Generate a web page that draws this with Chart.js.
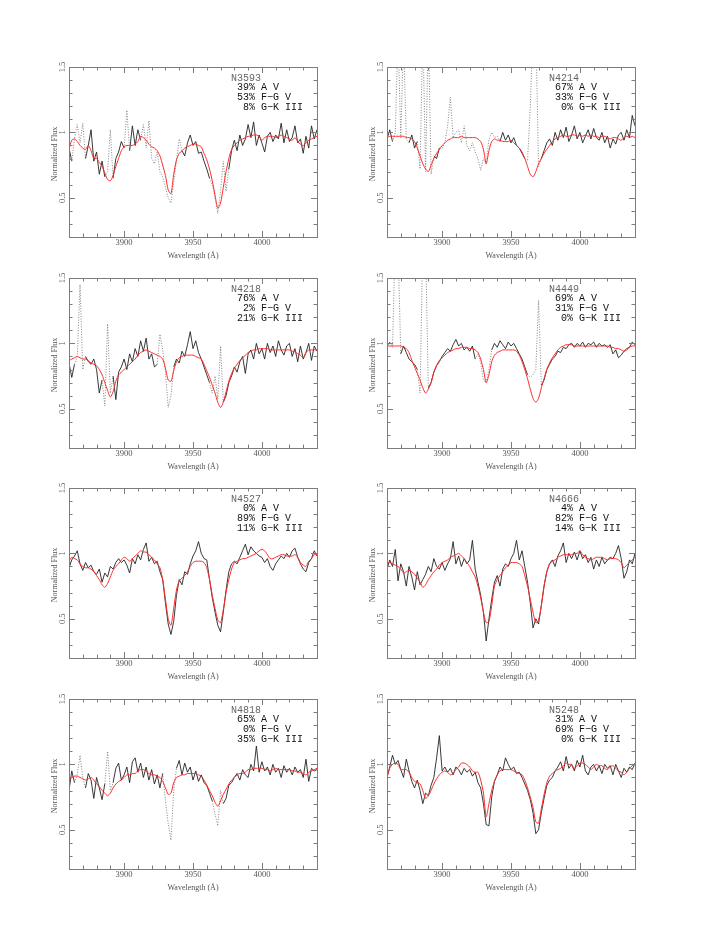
<!DOCTYPE html>
<html>
<head>
<meta charset="utf-8">
<script src="https://cdn.jsdelivr.net/npm/chart.js@4.4.1/dist/chart.umd.min.js"></script>
<style>
    html, body { margin: 0; background: #fff; }
    #page { position: relative; width: 720px; height: 931px; }
    .panel { position: absolute; width: 320px; height: 230px; }
</style>
</head>
<body>
<div id="page"></div>
<script>
// ─── Data ─────────────────────────────────────────────────────────────────────
// wavelength grid (Å), 3860..4040 every 2 Å
const WAVE = Array.from({ length: 91 }, (_, i) => 3860 + 2 * i);

const X_TICKS = [3900, 3950, 4000];
const Y_TICKS = [0.5, 1, 1.5];

const GALAXIES = ['N3593', 'N4214', 'N4218', 'N4449', 'N4527', 'N4666', 'N4818', 'N5248'];
const PCT_AV   = [39, 67, 76, 69, 0, 4, 65, 31];
const PCT_FGV  = [53, 33, 2, 31, 89, 82, 0, 69];
const PCT_GKIII = [8, 0, 21, 0, 11, 14, 35, 0];

const OBS_N3593 = [
    0.88,0.78,0.95,1.06,0.92,1.07,0.80,0.90,1.02,0.78,
    0.85,0.68,0.78,0.66,0.70,1.02,0.65,0.80,0.85,0.93,
    0.88,1.17,0.86,1.05,0.90,1.02,0.94,1.06,0.88,1.09,
    0.80,0.76,0.85,0.70,0.66,0.58,0.50,0.46,0.62,0.78,
    0.95,0.86,0.82,0.92,0.98,0.90,0.93,0.84,0.85,0.78,
    0.72,0.65,0.60,0.50,0.38,0.55,0.78,0.55,0.72,0.86,
    0.94,0.86,0.98,0.90,0.95,1.06,0.96,1.08,0.90,0.98,
    0.92,0.85,0.97,1.00,0.93,0.98,0.95,1.07,0.92,1.02,
    0.93,0.96,1.05,0.92,0.95,0.84,0.97,0.88,1.05,0.95,
    1.02];
const FIT_N3593 = [
    0.87,0.94,0.95,0.93,0.90,0.88,0.87,0.90,0.86,0.80,
    0.80,0.77,0.74,0.69,0.64,0.63,0.67,0.74,0.80,0.86,
    0.89,0.90,0.90,0.90,0.91,0.93,0.97,0.96,0.94,0.91,
    0.89,0.88,0.86,0.82,0.75,0.67,0.56,0.53,0.68,0.79,
    0.84,0.86,0.88,0.89,0.90,0.91,0.91,0.90,0.89,0.84,
    0.79,0.72,0.63,0.52,0.42,0.46,0.58,0.70,0.80,0.87,
    0.90,0.92,0.94,0.95,0.96,0.97,0.97,0.98,0.98,0.97,
    0.94,0.96,0.97,0.97,0.97,0.96,0.97,0.98,0.97,0.96,
    0.95,0.94,0.96,0.93,0.91,0.90,0.92,0.94,0.95,0.96,
    0.97];
const MASK_N3593 = [[3863, 3871], [3887, 3891], [3901, 3903], [3913, 3941], [3963, 3975]];

const OBS_N4214 = [
    0.95,1.02,0.93,1.00,1.75,0.96,1.72,0.95,0.92,0.98,
    0.88,0.93,0.72,1.80,0.70,1.80,0.68,0.82,0.80,0.88,
    0.88,0.92,1.05,1.27,0.96,1.00,1.02,0.92,1.05,0.90,
    0.86,0.92,0.85,0.80,0.71,0.80,0.76,0.95,1.00,0.96,
    0.97,0.93,1.00,0.94,0.98,0.92,0.96,0.90,0.88,0.84,
    0.80,0.78,1.20,1.80,1.80,0.74,0.80,0.86,0.92,0.95,
    0.90,1.00,0.94,1.02,0.96,1.04,0.93,0.98,1.05,0.95,
    1.00,0.92,0.97,1.02,0.95,1.03,0.96,0.94,1.00,0.92,
    0.97,0.88,0.95,0.91,0.98,1.00,0.94,1.02,0.96,1.13,
    1.05];
const FIT_N4214 = [
    0.96,0.97,0.97,0.97,0.97,0.97,0.97,0.96,0.96,0.95,
    0.93,0.88,0.82,0.76,0.72,0.70,0.75,0.80,0.84,0.87,
    0.90,0.92,0.94,0.95,0.96,0.96,0.96,0.97,0.96,0.96,
    0.96,0.96,0.96,0.95,0.93,0.87,0.76,0.86,0.93,0.95,
    0.94,0.94,0.93,0.93,0.93,0.94,0.92,0.90,0.88,0.85,
    0.80,0.74,0.68,0.66,0.70,0.76,0.80,0.84,0.87,0.90,
    0.93,0.95,0.96,0.97,0.98,0.97,0.97,0.98,0.98,0.97,
    0.98,0.97,0.98,0.97,0.98,0.97,0.97,0.96,0.97,0.97,
    0.96,0.95,0.96,0.96,0.95,0.94,0.96,0.97,0.96,0.97,
    0.96];
const MASK_N4214 = [[3865, 3875], [3883, 3893], [3899, 3941], [3961, 3971]];

const OBS_N4218 = [
    0.85,0.74,0.84,0.89,1.45,0.80,0.90,0.86,0.84,0.88,
    0.80,0.62,0.72,0.52,1.15,0.62,0.75,0.57,0.78,0.82,
    0.88,0.80,0.92,0.86,0.96,0.90,1.02,0.94,1.04,0.88,
    0.92,0.82,0.84,1.07,0.95,0.78,0.51,0.60,0.82,0.88,
    0.85,0.94,0.90,0.99,1.09,0.96,1.02,0.93,0.88,0.82,
    0.76,0.70,0.62,0.75,0.57,0.98,0.55,0.60,0.70,0.75,
    0.82,0.78,0.86,0.90,0.77,0.92,0.95,0.88,1.00,0.92,
    0.96,0.88,1.00,0.93,0.98,0.90,1.02,0.95,0.91,0.98,
    1.00,0.90,0.96,0.86,0.98,0.88,0.93,1.00,0.87,0.98,
    0.94];
const FIT_N4218 = [
    0.87,0.88,0.89,0.90,0.89,0.88,0.88,0.87,0.85,0.84,
    0.83,0.80,0.76,0.70,0.64,0.59,0.63,0.71,0.76,0.78,
    0.80,0.82,0.84,0.86,0.88,0.91,0.93,0.94,0.95,0.94,
    0.93,0.92,0.91,0.90,0.88,0.81,0.72,0.71,0.79,0.86,
    0.89,0.90,0.91,0.91,0.91,0.91,0.90,0.89,0.88,0.84,
    0.79,0.74,0.68,0.62,0.55,0.51,0.55,0.63,0.71,0.77,
    0.81,0.84,0.87,0.89,0.91,0.93,0.94,0.95,0.95,0.96,
    0.96,0.96,0.96,0.95,0.95,0.95,0.95,0.95,0.95,0.95,
    0.95,0.94,0.94,0.92,0.91,0.89,0.93,0.95,0.95,0.95,
    0.95];
const MASK_N4218 = [[3865, 3871], [3885, 3891], [3924, 3935], [3963, 3971]];

const OBS_N4449 = [
    0.98,1.01,0.97,1.80,1.75,0.92,0.98,0.93,0.88,0.86,
    0.84,0.80,0.62,1.80,1.75,0.66,0.70,0.78,0.83,0.86,
    0.90,0.93,0.96,0.94,0.99,1.03,0.98,1.00,0.95,0.97,
    0.94,0.98,0.88,0.92,0.85,0.72,0.70,0.80,0.95,1.00,
    0.97,1.02,0.99,0.96,1.01,0.98,1.00,0.96,0.92,0.88,
    0.82,0.76,0.74,0.76,0.80,1.33,0.68,0.72,0.80,0.84,
    0.88,0.90,0.94,0.93,0.97,0.96,0.99,1.00,0.97,1.00,
    0.98,1.01,0.97,1.00,0.99,1.01,0.97,1.00,0.98,0.99,
    0.97,0.99,0.92,0.95,0.89,0.91,0.94,0.96,0.97,1.01,
    0.99];
const FIT_N4449 = [
    0.98,0.98,0.98,0.98,0.98,0.98,0.97,0.96,0.93,0.87,
    0.82,0.77,0.72,0.66,0.62,0.65,0.70,0.78,0.83,0.87,
    0.89,0.91,0.93,0.94,0.95,0.96,0.96,0.97,0.97,0.97,
    0.96,0.96,0.95,0.93,0.88,0.80,0.70,0.76,0.86,0.91,
    0.93,0.94,0.95,0.95,0.95,0.95,0.95,0.94,0.91,0.86,
    0.80,0.73,0.65,0.58,0.55,0.58,0.66,0.73,0.80,0.85,
    0.89,0.92,0.95,0.97,0.98,0.99,0.99,0.99,0.98,0.98,
    0.98,0.98,0.98,0.98,0.98,0.98,0.98,0.98,0.98,0.98,
    0.98,0.97,0.97,0.96,0.96,0.95,0.94,0.95,0.97,0.98,
    0.98];
const MASK_N4449 = [[3863, 3870], [3883, 3889], [3925, 3936], [3963, 3972]];

const OBS_N4527 = [
    0.89,0.95,0.98,1.02,0.92,0.87,0.93,0.89,0.91,0.86,
    0.84,0.88,0.78,0.85,0.82,0.90,0.88,0.93,0.96,0.93,
    0.95,0.91,0.85,0.96,0.92,0.99,0.95,1.03,1.08,0.94,
    0.97,0.92,0.94,0.86,0.80,0.62,0.46,0.38,0.48,0.68,
    0.80,0.76,0.86,0.84,0.92,0.98,1.02,1.09,1.00,0.96,
    0.95,0.80,0.66,0.55,0.45,0.40,0.55,0.72,0.86,0.92,
    0.94,0.92,0.97,1.02,1.07,0.99,1.05,1.02,1.00,0.98,
    0.97,0.93,0.96,0.90,0.87,0.92,0.95,0.98,0.96,1.00,
    0.97,1.02,1.04,0.97,0.92,0.88,0.86,0.93,0.96,1.02,
    0.98];
const FIT_N4527 = [
    0.94,0.97,0.96,0.95,0.92,0.90,0.89,0.89,0.88,0.86,
    0.83,0.80,0.76,0.74,0.77,0.82,0.87,0.90,0.92,0.95,
    0.97,0.96,0.94,0.96,0.98,1.00,1.02,1.01,1.01,0.99,
    0.97,0.95,0.92,0.89,0.80,0.65,0.50,0.45,0.58,0.72,
    0.79,0.81,0.83,0.86,0.90,0.93,0.94,0.94,0.94,0.93,
    0.89,0.80,0.68,0.58,0.49,0.47,0.57,0.70,0.80,0.88,
    0.93,0.94,0.95,0.96,0.96,0.97,0.98,0.99,1.00,1.02,
    1.03,1.02,0.99,0.96,0.96,0.97,0.98,0.99,0.99,0.98,
    0.98,0.98,0.99,0.97,0.93,0.91,0.90,0.94,0.96,0.99,
    0.99];
const MASK_N4527 = [];

const OBS_N4666 = [
    0.88,0.95,0.90,1.03,0.79,0.92,0.86,0.75,0.90,0.82,
    0.72,0.86,0.76,0.80,0.84,0.90,0.86,0.96,0.90,0.88,
    0.93,0.87,0.92,0.96,1.09,0.92,0.98,0.90,0.96,0.92,
    0.95,1.10,0.88,0.78,0.68,0.55,0.33,0.50,0.65,0.78,
    0.83,0.75,0.88,0.92,0.90,0.96,1.00,1.10,0.95,1.02,
    0.90,0.78,0.62,0.43,0.50,0.46,0.60,0.75,0.86,0.92,
    0.95,0.90,0.98,1.02,1.08,0.93,1.00,0.96,1.01,0.95,
    1.02,0.96,0.99,0.93,0.97,0.88,0.95,0.90,0.97,0.92,
    0.95,0.97,0.96,1.00,1.06,0.96,0.81,0.86,0.95,0.92,
    1.00];
const FIT_N4666 = [
    0.93,0.93,0.92,0.91,0.90,0.88,0.85,0.86,0.87,0.86,
    0.84,0.81,0.78,0.74,0.76,0.80,0.83,0.86,0.88,0.91,
    0.93,0.94,0.95,0.97,0.98,0.99,1.00,0.98,0.96,0.93,
    0.90,0.86,0.82,0.75,0.66,0.55,0.47,0.48,0.60,0.75,
    0.80,0.83,0.86,0.89,0.91,0.93,0.93,0.93,0.92,0.90,
    0.83,0.75,0.65,0.55,0.47,0.49,0.60,0.75,0.86,0.92,
    0.94,0.95,0.97,0.98,0.99,0.99,0.99,0.99,1.00,1.00,
    1.02,0.99,0.97,0.96,0.95,0.96,0.97,0.97,0.97,0.96,
    0.95,0.96,0.96,0.96,0.95,0.93,0.89,0.91,0.93,0.95,
    0.97];
const MASK_N4666 = [];

const OBS_N4818 = [
    0.80,0.95,0.86,0.92,1.07,0.90,0.82,0.93,0.88,0.74,
    0.90,0.82,0.73,0.85,1.10,0.80,0.86,0.97,1.01,0.88,
    0.92,0.98,0.86,1.02,1.05,0.94,1.01,0.90,0.98,0.88,
    0.96,0.85,0.92,0.82,0.93,0.72,0.55,0.42,0.80,0.97,
    1.03,0.92,1.01,0.94,0.98,0.88,0.95,0.87,0.92,0.86,
    0.84,0.78,0.72,0.62,0.53,0.80,0.70,0.74,0.84,0.86,
    0.90,0.93,0.88,0.96,0.92,0.90,1.00,0.95,1.14,0.94,
    1.02,0.95,0.98,0.92,1.00,0.94,0.97,0.90,0.99,0.94,
    0.97,0.92,0.98,0.94,0.96,0.90,1.04,0.87,0.97,0.95,
    0.96];
const FIT_N4818 = [
    0.88,0.90,0.91,0.91,0.90,0.89,0.88,0.89,0.90,0.88,
    0.85,0.83,0.80,0.78,0.76,0.78,0.82,0.85,0.87,0.88,
    0.90,0.92,0.92,0.93,0.93,0.95,0.96,0.96,0.95,0.93,
    0.92,0.92,0.91,0.90,0.87,0.82,0.77,0.78,0.86,0.90,
    0.91,0.92,0.92,0.93,0.93,0.93,0.93,0.92,0.91,0.88,
    0.84,0.80,0.76,0.71,0.68,0.72,0.77,0.81,0.85,0.88,
    0.90,0.92,0.93,0.93,0.94,0.96,0.96,0.97,0.97,0.97,
    0.97,0.96,0.96,0.95,0.96,0.97,0.96,0.96,0.96,0.96,
    0.96,0.95,0.95,0.94,0.94,0.93,0.92,0.94,0.95,0.96,
    0.97];
const MASK_N4818 = [[3865, 3871], [3887, 3891], [3929, 3938], [3964, 3971]];

const OBS_N5248 = [
    0.90,0.98,1.07,1.00,1.03,0.96,0.90,1.04,0.95,0.87,
    0.82,0.88,0.80,0.70,0.78,0.76,0.84,0.90,1.05,1.22,
    0.95,0.98,0.94,0.97,0.92,0.98,0.96,0.92,0.97,0.94,
    0.96,0.91,0.94,0.86,0.82,0.70,0.54,0.53,0.75,0.87,
    0.92,0.98,0.95,1.05,1.00,0.96,0.98,0.93,0.94,0.90,
    0.85,0.80,0.73,0.63,0.47,0.50,0.63,0.74,0.84,0.88,
    0.90,0.95,0.98,1.02,0.95,1.06,0.97,1.00,0.95,1.03,
    0.98,1.07,0.95,0.92,0.98,1.00,0.95,0.99,0.93,1.00,
    0.97,0.99,0.92,1.00,0.95,0.90,0.97,0.94,0.98,0.96,
    1.01];
const FIT_N5248 = [
    0.90,0.97,1.00,1.01,1.00,0.96,0.96,0.96,0.94,0.90,
    0.87,0.86,0.85,0.80,0.74,0.76,0.80,0.85,0.89,0.92,
    0.94,0.95,0.94,0.92,0.93,0.96,0.98,1.01,1.01,1.00,
    0.98,0.95,0.94,0.94,0.88,0.78,0.60,0.70,0.80,0.87,
    0.92,0.95,0.96,0.96,0.96,0.96,0.95,0.94,0.93,0.92,
    0.88,0.82,0.75,0.67,0.56,0.55,0.66,0.77,0.86,0.91,
    0.93,0.95,0.96,0.97,0.99,1.01,1.00,1.00,0.97,0.99,
    1.01,1.01,1.00,0.98,0.96,0.98,1.00,0.99,0.99,0.97,
    0.96,0.98,0.99,0.97,0.95,0.94,0.92,0.94,0.97,0.99,
    1.00];
const MASK_N5248 = [];

const OBS = [OBS_N3593, OBS_N4214, OBS_N4218, OBS_N4449, OBS_N4527, OBS_N4666, OBS_N4818, OBS_N5248];
const FIT = [FIT_N3593, FIT_N4214, FIT_N4218, FIT_N4449, FIT_N4527, FIT_N4666, FIT_N4818, FIT_N5248];
const MASKS = [MASK_N3593, MASK_N4214, MASK_N4218, MASK_N4449, MASK_N4527, MASK_N4666, MASK_N4818, MASK_N5248];

// ─── Layout ───────────────────────────────────────────────────────────────────
const COL_LEFT = [69, 387];          // chart-area left edge per column
const ROW_TOP = [67, 278, 488, 699];  // chart-area top edge per row
const PAD = { left: 50, right: 22, top: 17, bottom: 43 }; // canvas 320x230 -> area 248x170

const SERIF = '"Liberation Serif", "DejaVu Serif", serif';
const MONO = '"Liberation Mono", "DejaVu Sans Mono", monospace';

const toPoints = arr => WAVE.map((w, i) => ({ x: w, y: arr[i] }));

// ─── Frame, ticks and labels (PGPLOT style, inward ticks on all sides) ───────
const framePlugin = {
    id: 'frame',
    afterDraw(chart, args, opts) {
        const { ctx, chartArea: a, scales: { x, y } } = chart;
        ctx.save();
        ctx.strokeStyle = '#7c7c7c';
        ctx.lineWidth = 1;
        ctx.strokeRect(Math.round(a.left) + 0.5, Math.round(a.top) + 0.5,
            Math.round(a.right - a.left), Math.round(a.bottom - a.top));

        ctx.beginPath();
        for (let w = 3870; w < 4040; w += 10) {
            const px = Math.round(x.getPixelForValue(w)) + 0.5;
            const len = w % 50 === 0 ? 6 : 3.5;
            ctx.moveTo(px, a.bottom); ctx.lineTo(px, a.bottom - len);
            ctx.moveTo(px, a.top); ctx.lineTo(px, a.top + len);
        }
        for (let k = 3; k < 15; k++) {
            const py = Math.round(y.getPixelForValue(k / 10)) + 0.5;
            const len = k % 5 === 0 ? 6 : 3.5;
            ctx.moveTo(a.left, py); ctx.lineTo(a.left + len, py);
            ctx.moveTo(a.right, py); ctx.lineTo(a.right - len, py);
        }
        ctx.stroke();

        // tick labels
        ctx.fillStyle = '#555';
        ctx.font = `8.5px ${SERIF}`;
        ctx.textAlign = 'center';
        ctx.textBaseline = 'middle';
        X_TICKS.forEach(w => ctx.fillText(String(w), x.getPixelForValue(w), a.bottom + 6));
        Y_TICKS.forEach(v => {
            ctx.save();
            ctx.translate(a.left - 6, y.getPixelForValue(v));
            ctx.rotate(-Math.PI / 2);
            ctx.fillText(String(v), 0, 0);
            ctx.restore();
        });

        // axis titles
        ctx.font = `8px ${SERIF}`;
        ctx.fillText('Wavelength (Å)', (a.left + a.right) / 2, a.bottom + 19);
        ctx.save();
        ctx.translate(a.left - 14, (a.top + a.bottom) / 2 + 2);
        ctx.rotate(-Math.PI / 2);
        ctx.fillText('Normalized Flux', 0, 0);
        ctx.restore();

        // population mix annotation
        ctx.textAlign = 'left';
        ctx.font = `10px ${MONO}`;
        ctx.fillStyle = '#666';
        ctx.fillText(opts.name, a.left + 162, a.top + 11);
        ctx.fillStyle = '#111';
        opts.lines.forEach((t, i) => ctx.fillText(t, a.left + 162, a.top + 20.7 + i * 9.6));
        ctx.restore();
    },
};

const pctLine = (p, label) => ' ' + (String(p) + '%').padStart(3) + ' ' + label;

// ─── Build panels ─────────────────────────────────────────────────────────────
function buildPanel(i) {
    const page = document.getElementById('page');
    const col = i % 2;
    const row = Math.floor(i / 2);

    const wrap = document.createElement('div');
    wrap.className = 'panel';
    wrap.style.left = (COL_LEFT[col] - PAD.left) + 'px';
    wrap.style.top = (ROW_TOP[row] - PAD.top) + 'px';
    const canvas = document.createElement('canvas');
    canvas.width = 320;
    canvas.height = 230;
    wrap.appendChild(canvas);
    page.appendChild(wrap);

    const mask = MASKS[i];
    const inMask = ctx => {
        const mid = (ctx.p0.parsed.x + ctx.p1.parsed.x) / 2;
        return mask.some(([a, b]) => mid >= a && mid <= b);
    };

    new Chart(canvas, {
        type: 'line',
        data: {
            datasets: [
                {
                    label: 'model',
                    data: toPoints(FIT[i]),
                    borderColor: '#ff2a2a',
                    borderWidth: 1,
                    pointRadius: 0,
                    tension: 0.25,
                },
                {
                    label: 'observed',
                    data: toPoints(OBS[i]),
                    borderColor: '#222',
                    borderWidth: 0.9,
                    pointRadius: 0,
                    tension: 0,
                    segment: {
                        borderColor: ctx => (inMask(ctx) ? '#777' : undefined),
                        borderDash: ctx => (inMask(ctx) ? [1, 1.6] : undefined),
                    },
                },
            ],
        },
        options: {
            responsive: false,
            animation: false,
            events: [],
            layout: { padding: PAD },
            plugins: {
                legend: { display: false },
                tooltip: { enabled: false },
                frame: {
                    name: GALAXIES[i],
                    lines: [
                        pctLine(PCT_AV[i], 'A V'),
                        pctLine(PCT_FGV[i], 'F−G V'),
                        pctLine(PCT_GKIII[i], 'G−K III'),
                    ],
                },
            },
            scales: {
                x: { type: 'linear', min: 3860, max: 4040, display: false },
                y: { type: 'linear', min: 0.2, max: 1.5, display: false },
            },
        },
        plugins: [framePlugin],
    });
}

GALAXIES.forEach((_, i) => buildPanel(i));
</script>
</body>
</html>
